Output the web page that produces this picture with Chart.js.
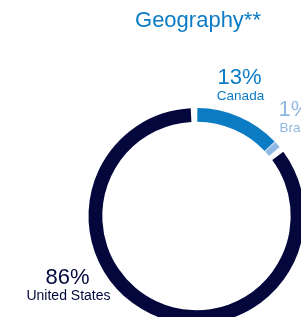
<!DOCTYPE html>
<html lang="en">
<head>
    <meta charset="UTF-8">
    <title>Geography</title>
    <script src="https://cdn.jsdelivr.net/npm/chart.js"></script>
    <style>
        html, body { margin: 0; padding: 0; background: #fff; overflow: hidden; }
        .wrap { position: absolute; left: 0; top: 0; width: 400px; height: 440px; }
    </style>
</head>
<body>

<div class="wrap">
    <canvas id="geoChart"></canvas>
</div>

<script>
// Data
const categories = ['Canada', 'Brazil', 'United States'];
const shares = [13, 1, 86];
const colors = ['#0b7bc4', '#8fb8e2', '#03073c'];
const titleText = 'Geography**';

// label anchors (offsets from the ring centre, px)
const labelSpots = [
    { dx: 43, dy: -132, align: 'center', nameSize: 13.5 },
    { dx: 82, dy: -100, align: 'left', nameSize: 13.5 },
    { dx: -129, dy: 68, align: 'center', nameSize: 14 }
];

const fontFamily = '"Liberation Sans", Arial, Helvetica, sans-serif';

const labelPlugin = {
    id: 'geoLabels',
    afterDraw(chart) {
        const ctx = chart.ctx;
        const arc = chart.getDatasetMeta(0).data[0];
        const cx = arc.x, cy = arc.y;

        ctx.save();
        // title
        ctx.fillStyle = '#0b7bc4';
        ctx.font = '22px ' + fontFamily;
        ctx.textAlign = 'center';
        ctx.textBaseline = 'alphabetic';
        ctx.fillText(titleText, cx + 1.5, 27);

        categories.forEach((name, i) => {
            const spot = labelSpots[i];
            const x = cx + spot.dx;
            const y = cy + spot.dy;
            ctx.fillStyle = colors[i];
            ctx.textAlign = spot.align;
            ctx.font = '22px ' + fontFamily;
            ctx.fillText(shares[i] + '%', x, y);
            ctx.font = spot.nameSize + 'px ' + fontFamily;
            ctx.fillText(name, x + 1, y + 16);
        });
        ctx.restore();
    }
};

new Chart(document.getElementById('geoChart'), {
    type: 'doughnut',
    data: {
        labels: categories,
        datasets: [{
            data: shares,
            backgroundColor: colors,
            borderWidth: 0,
            spacing: 4
        }]
    },
    options: {
        responsive: true,
        maintainAspectRatio: false,
        animation: false,
        cutout: '87%',
        rotation: 0,
        layout: {
            padding: { left: 88.5, right: 95.5, top: 108, bottom: 116 }
        },
        plugins: {
            legend: { display: false },
            tooltip: { enabled: false }
        }
    },
    plugins: [labelPlugin]
});
</script>

</body>
</html>
